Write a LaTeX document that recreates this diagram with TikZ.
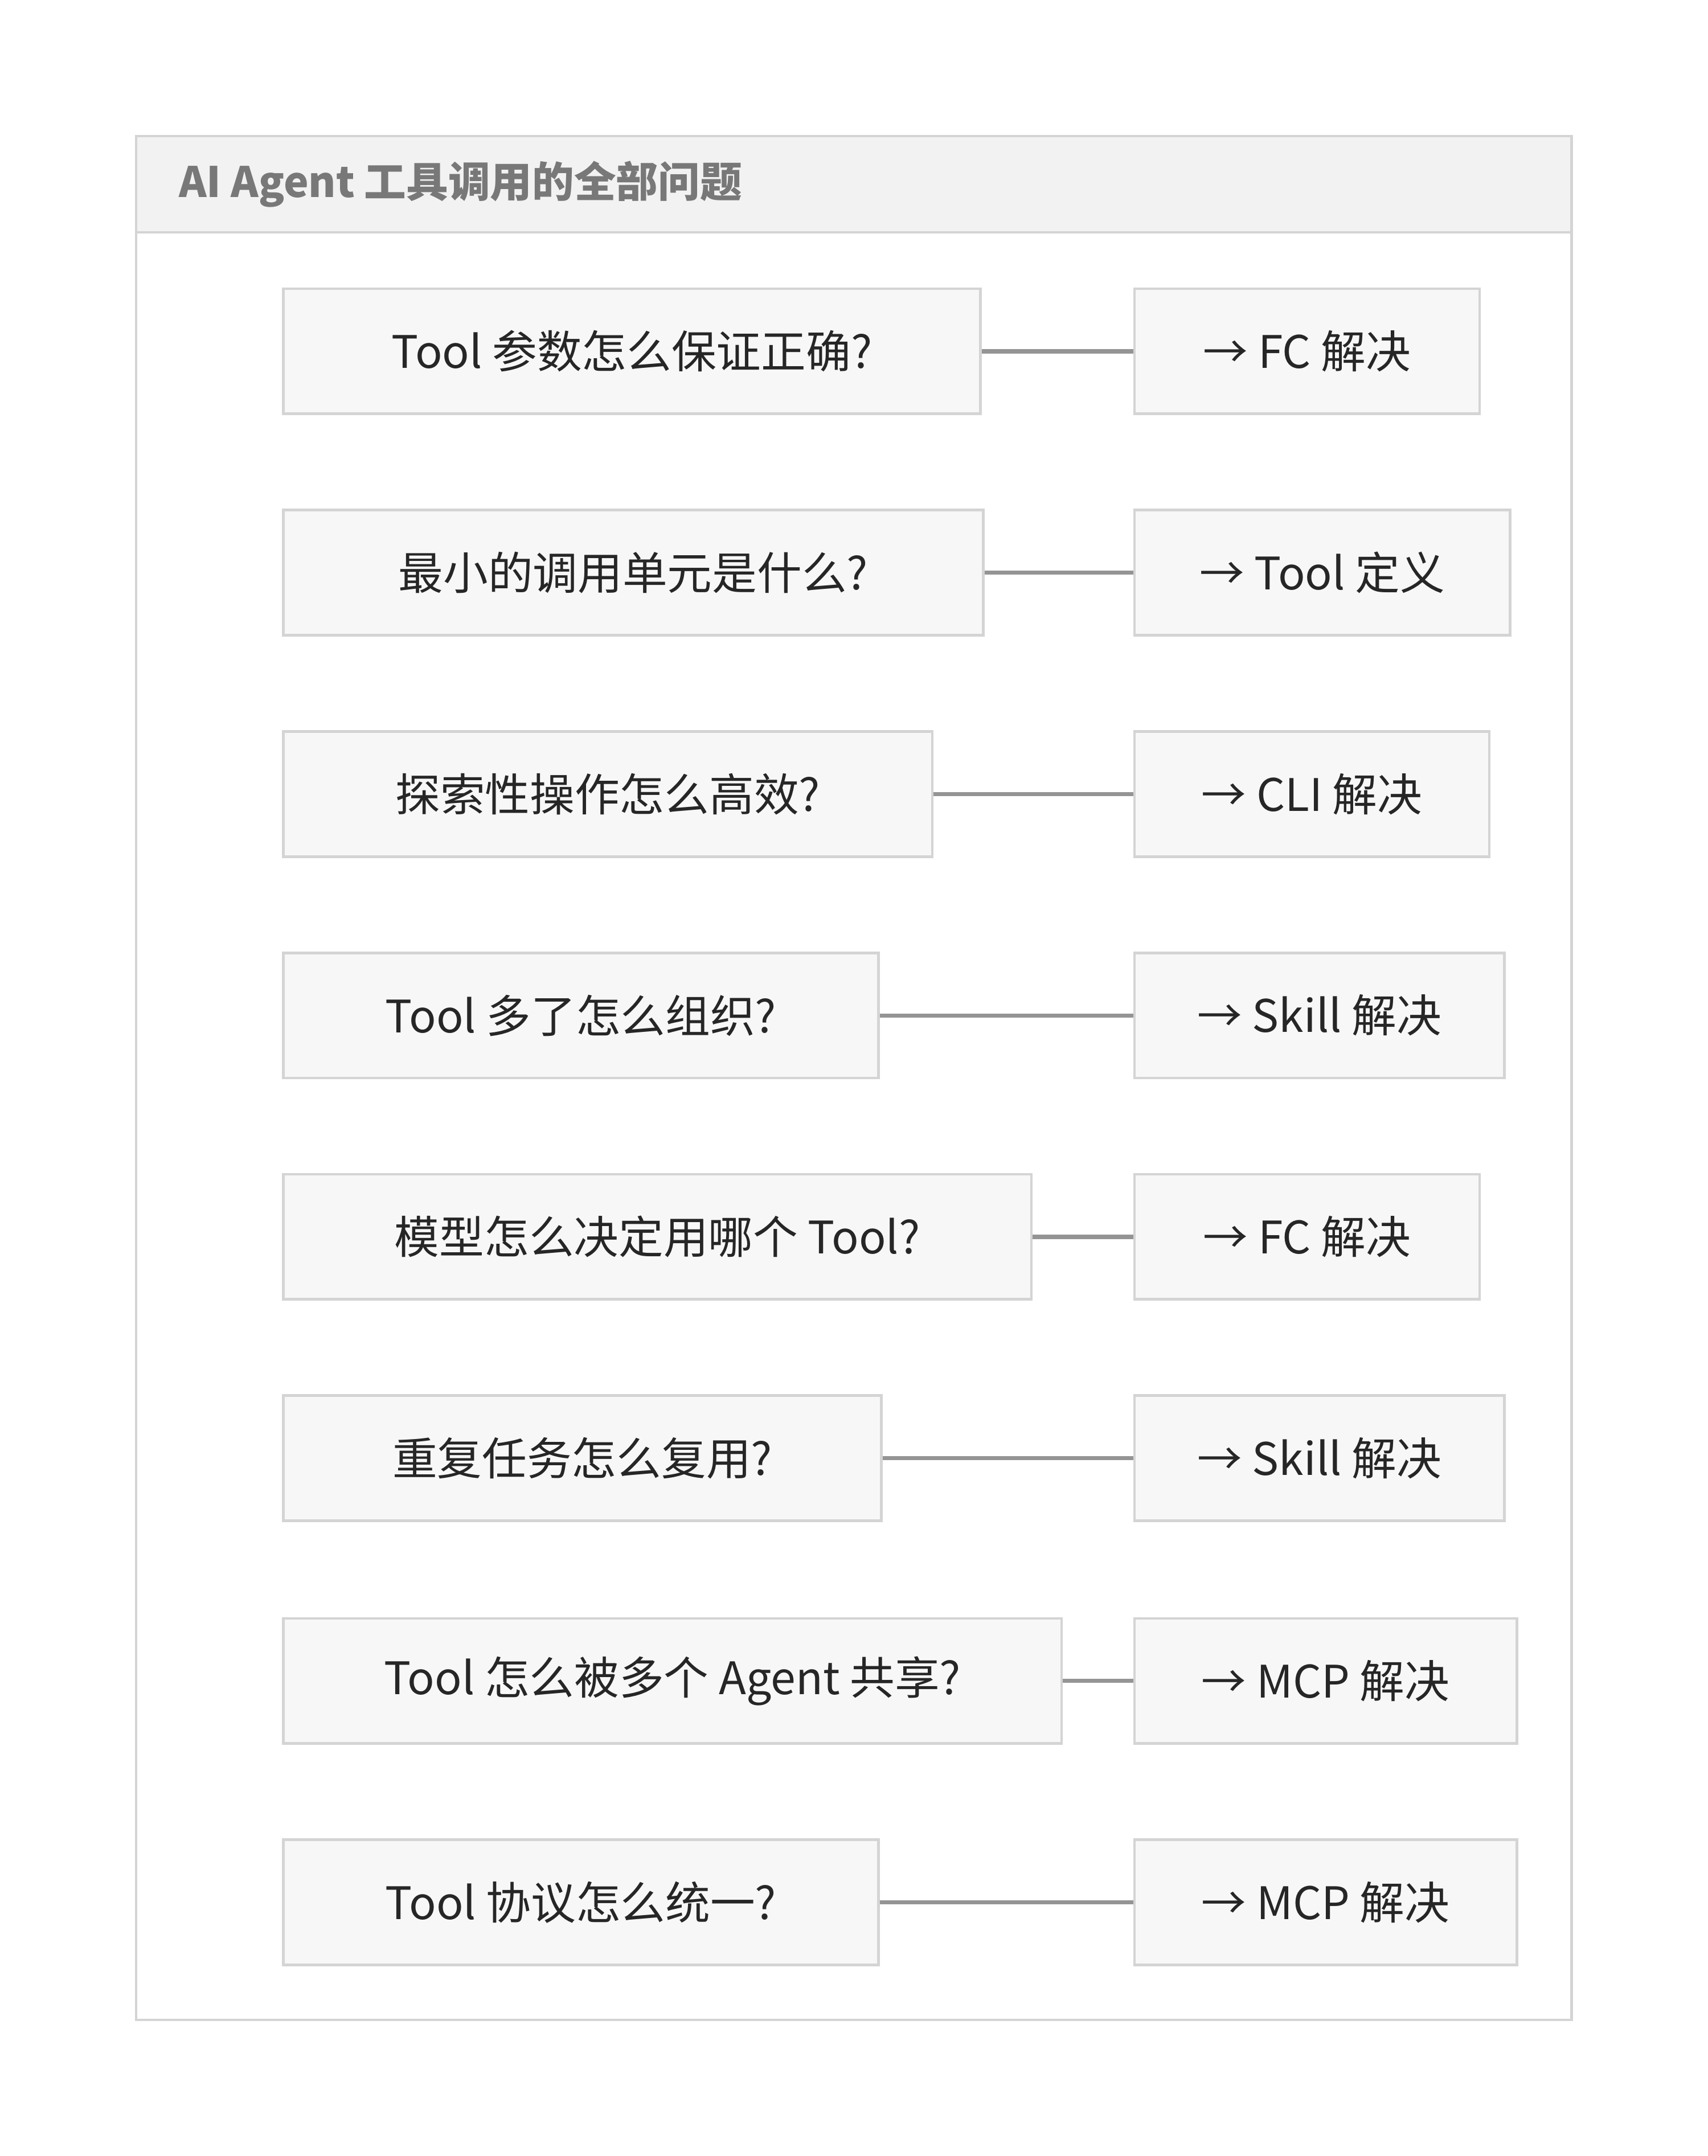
\documentclass[tikz,border=0pt]{standalone}
\usepackage{fontspec}
\setmainfont{Noto Sans CJK SC}
\begin{document}
\begin{tikzpicture}[x=1pt,y=-1pt,
  frame/.style={draw=black!17,line width=2pt},
  qbox/.style={draw=black!17,fill=black!3,line width=2pt,anchor=north west,
    minimum height=91pt,inner sep=0pt,text=black!85,
    font=\fontsize{32.6}{38}\selectfont},
  abox/.style={qbox},
  link/.style={draw=black!42,line width=3pt},
  titletext/.style={anchor=west,inner sep=0pt,text=black!53,
    font=\fontsize{30.5}{36}\selectfont\bfseries}]
\useasboundingbox[fill=white] (0,0) rectangle (1242,1568);
\draw[frame,fill=white] (99,99) rectangle (1143,1469);
\draw[frame,fill=black!5] (99,99) rectangle (1143,169);
\node[titletext] (title) at (130,134) {AI Agent 工具调用的全部问题};
\foreach \i/\y/\lr/\rr/\q/\a in {
  1/209/712/1075/Tool 参数怎么保证正确?/→ FC 解决,
  2/370/714/1097/最小的调用单元是什么?/→ Tool 定义,
  3/531/677/1082/探索性操作怎么高效?/→ CLI 解决,
  4/692/638/1093/Tool 多了怎么组织?/→ Skill 解决,
  5/853/749/1075/模型怎么决定用哪个 Tool?/→ FC 解决,
  6/1014/640/1093/重复任务怎么复用?/→ Skill 解决,
  7/1176/771/1102/Tool 怎么被多个 Agent 共享?/→ MCP 解决,
  8/1337/638/1102/Tool 协议怎么统一?/→ MCP 解决}{
  \pgfmathsetmacro{\lw}{\lr-205}
  \pgfmathsetmacro{\rw}{\rr-824}
  \node[qbox,minimum width=\lw pt] (q\i) at (205,\y) {\q};
  \node[abox,minimum width=\rw pt] (a\i) at (824,\y) {\a};
  \draw[link] (q\i.east) -- (a\i.west);
}
\end{tikzpicture}
\end{document}
